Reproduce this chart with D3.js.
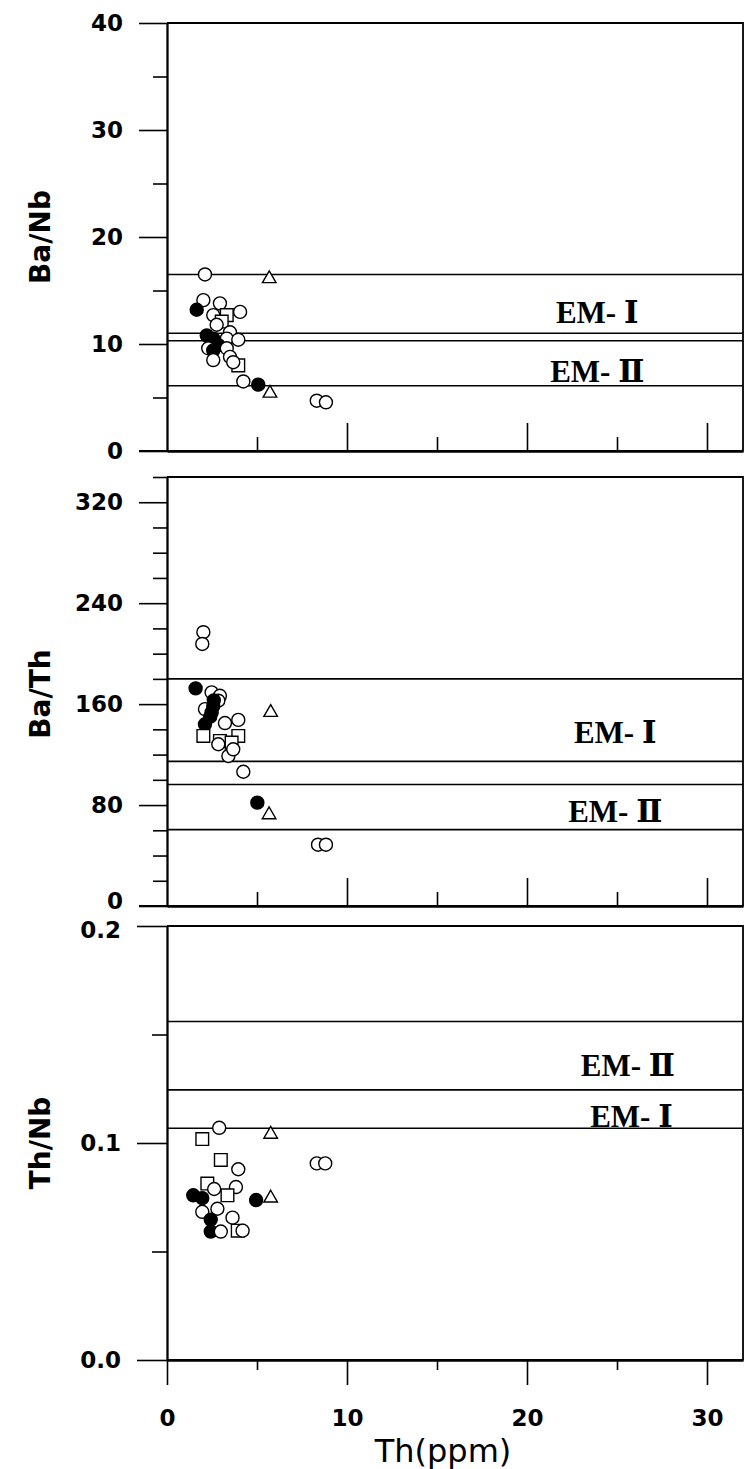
<!DOCTYPE html>
<html>
<head>
<meta charset="utf-8">
<script src="https://cdn.jsdelivr.net/npm/d3@7"></script>
<style>
  body { margin: 0; background: #fff; }
  .tick text { font-family: "DejaVu Sans", sans-serif; font-weight: bold; font-size: 23px; }
  .title { font-family: "DejaVu Sans", sans-serif; font-size: 28px; font-weight: bold; }
  .xtitle { font-family: "DejaVu Sans", sans-serif; font-size: 32px; }
  .em { font-family: "Liberation Serif", "DejaVu Serif", serif; font-weight: bold; font-size: 31px; }
</style>
</head>
<body>
<div id="chart"></div>
<script>
var width = 751,
  height = 1469;

// x values are Th (ppm); symbol: o open circle, f filled circle, s square, t triangle
var th1   = [2.11, 5.68, 2.02, 2.94, 1.65, 4.06, 2.57, 3.32, 3.04, 2.76, 2.21, 2.57, 3.5, 3.32, 3.96, 2.85, 2.29, 2.57, 3.32, 2.57, 3.5, 3.96, 3.68, 4.24, 5.07, 5.72, 8.32, 8.83];
var baNb  = [16.5, 16.1, 14.1, 13.8, 13.2, 13.0, 12.7, 12.7, 12.1, 11.8, 10.8, 10.5, 11.1, 10.5, 10.4, 9.9, 9.6, 9.4, 9.6, 8.5, 8.8, 8.0, 8.3, 6.5, 6.2, 5.4, 4.7, 4.55];
var sym1  = ["o","t","o","o","f","o","o","s","s","o","f","f","o","o","o","f","o","f","o","o","o","s","o","o","f","t","o","o"];

var th2   = [2.02, 1.96, 1.59, 2.48, 2.94, 2.85, 2.11, 2.6, 2.57, 2.48, 2.4, 5.76, 2.11, 2.02, 3.22, 3.96, 3.96, 2.94, 2.85, 3.59, 3.41, 3.68, 4.24, 5.02, 5.67, 8.39, 8.83];
var baTh  = [217, 207.7, 172.5, 169.3, 166.6, 162.7, 156, 163, 158.6, 153.4, 150, 153.4, 144, 134.8, 145, 147.5, 134.8, 130.8, 128.2, 129.5, 118.9, 124.2, 106.4, 81.9, 72.3, 48.6, 48.6];
var sym2  = ["o","o","f","o","o","o","o","f","f","f","f","t","f","s","o","o","s","s","o","s","o","o","o","f","t","o","o"];

var th3   = [2.9, 1.96, 5.76, 2.99, 3.96, 8.32, 8.79, 2.24, 2.62, 3.83, 1.46, 1.96, 3.36, 4.95, 5.76, 1.96, 2.8, 2.43, 3.64, 2.43, 2.99, 3.93, 4.2];
var thNb  = [0.107, 0.1018, 0.104, 0.0922, 0.0879, 0.0906, 0.0906, 0.0813, 0.0788, 0.0797, 0.0759, 0.0746, 0.0759, 0.0737, 0.0746, 0.0683, 0.0697, 0.0647, 0.0656, 0.0592, 0.0592, 0.0596, 0.0596];
var sym3  = ["o","s","t","s","o","o","o","s","o","o","f","f","s","f","t","o","o","f","o","f","o","s","o"];

// horizontal boundary lines of the EM fields
var lines1 = [16.5, 11.0, 10.3, 6.1];
var lines2 = [180, 114.6, 96.3, 60.5];
var lines3 = [0.156, 0.1245, 0.1068];

// field labels: [text, Th, value at baseline]
var labels1 = [["EM- \u2160", 23.9, 11.96], ["EM- \u2161", 23.9, 6.45]];
var labels2 = [["EM- \u2160", 24.9, 129], ["EM- \u2161", 24.9, 66.6]];
var labels3 = [["EM- \u2161", 25.6, 0.131], ["EM- \u2160", 25.8, 0.1075]];

var xTicks = [0, 10, 20, 30],
  xMinor = [5, 15, 25];

var svg = d3.select("#chart").append("svg")
  .attr("width", width)
  .attr("height", height);

var x = d3.scaleLinear().domain([0, 32]).range([167, 743]);

var panels = [
  { y: d3.scaleLinear().domain([0, 40]).range([451, 23]), th: th1, v: baNb, s: sym1,
    lines: lines1, labels: labels1, title: "Ba/Nb", ty: 237,
    major: [0, 10, 20, 30, 40], minor: [5, 15, 25, 35], fmt: d3.format("d"), ys: 28, bottom: false },
  { y: d3.scaleLinear().domain([0, 340]).range([906, 477]), th: th2, v: baTh, s: sym2,
    lines: lines2, labels: labels2, title: "Ba/Th", ty: 694,
    major: [0, 80, 160, 240, 320], minor: d3.range(20, 341, 20).filter(function(d) { return d % 80; }),
    fmt: d3.format("d"), ys: 28, bottom: false },
  { y: d3.scaleLinear().domain([0, 0.2]).range([1360, 926]), th: th3, v: thNb, s: sym3,
    lines: lines3, labels: labels3, title: "Th/Nb", ty: 1143,
    major: [0, 0.1, 0.2], minor: [0.05, 0.15], fmt: d3.format(".1f"), ys: 30, bottom: true }
];

panels.forEach(function(p, k) {
  var g = svg.append("g");
  var y0 = p.y.range()[0], y1 = p.y.range()[1];

  // frame (top + right)
  g.append("path")
    .attr("d", "M" + x(0) + "," + y1 + "H" + x(32) + "V" + y0)
    .attr("fill", "none").attr("stroke", "#000").attr("stroke-width", 1.8);

  // y axis
  var ya = g.append("g").attr("transform", "translate(" + x(0) + ",0)")
    .call(d3.axisLeft(p.y).tickValues(p.major).tickFormat(p.fmt).tickSize(p.ys).tickPadding(16).tickSizeOuter(0));
  g.append("g").attr("transform", "translate(" + x(0) + ",0)")
    .call(d3.axisLeft(p.y).tickValues(p.minor).tickFormat("").tickSize(p.ys / 2).tickSizeOuter(0));

  // the panel-2 zero and the panel-3 top label sit very close; nudge them apart a little
  if (k === 1) ya.selectAll(".tick text").filter(function(d) { return d === 0; }).attr("dy", "0.1em");
  if (k === 2) ya.selectAll(".tick text").filter(function(d) { return d === 0.2; }).attr("dy", "0.5em");

  // x axis
  if (p.bottom) {
    g.append("g").attr("transform", "translate(0," + y0 + ")")
      .call(d3.axisBottom(x).tickValues(xTicks).tickFormat(d3.format("d")).tickSize(25).tickPadding(25).tickSizeOuter(0));
    g.append("g").attr("transform", "translate(0," + y0 + ")")
      .call(d3.axisBottom(x).tickValues(xMinor).tickFormat("").tickSize(10).tickSizeOuter(0));
  } else {
    g.append("g").attr("transform", "translate(0," + y0 + ")")
      .call(d3.axisBottom(x).tickValues(xTicks.slice(1)).tickFormat("").tickSize(-28).tickSizeOuter(0));
    g.append("g").attr("transform", "translate(0," + y0 + ")")
      .call(d3.axisBottom(x).tickValues(xMinor).tickFormat("").tickSize(-14).tickSizeOuter(0));
  }
  // bottom edge reaches left as the zero tick
  g.append("line")
    .attr("x1", x(0) - (p.bottom ? 0 : 28)).attr("x2", x(32))
    .attr("y1", y0).attr("y2", y0)
    .attr("stroke", "#000").attr("stroke-width", 1.8);

  g.selectAll(".domain").attr("stroke-width", 1.8);
  g.selectAll(".tick line").attr("stroke-width", 1.6);

  // field boundaries
  g.selectAll(".bound")
    .data(p.lines)
    .enter().append("line")
    .attr("x1", x(0)).attr("x2", x(32))
    .attr("y1", function(d) { return p.y(d); })
    .attr("y2", function(d) { return p.y(d); })
    .attr("stroke", "#000").attr("stroke-width", 1.6);

  g.selectAll(".em")
    .data(p.labels)
    .enter().append("text")
    .attr("class", "em")
    .attr("text-anchor", "middle")
    .attr("x", function(d) { return x(d[1]); })
    .attr("y", function(d) { return p.y(d[2]); })
    .text(function(d) { return d[0]; });

  // points
  var pts = p.th.map(function(d, i) { return { x: d, v: p.v[i], s: p.s[i] }; });
  pts.forEach(function(d) {
    var cx = x(d.x), cy = p.y(d.v);
    if (d.s === "o" || d.s === "f") {
      g.append("circle").attr("cx", cx).attr("cy", cy).attr("r", 6.5)
        .attr("fill", d.s === "f" ? "#000" : "#fff")
        .attr("stroke", "#000").attr("stroke-width", 1.4);
    } else {
      var shape = d.s === "s" ? d3.symbolSquare : d3.symbolTriangle;
      g.append("path")
        .attr("transform", "translate(" + cx + "," + cy + ")")
        .attr("d", d3.symbol().type(shape).size(d.s === "s" ? 160 : 80)())
        .attr("fill", "#fff").attr("stroke", "#000").attr("stroke-width", 1.4);
    }
  });

  svg.append("text")
    .attr("class", "title")
    .attr("text-anchor", "middle")
    .attr("transform", "translate(50," + p.ty + ") rotate(-90)")
    .text(p.title);
});

svg.append("text")
  .attr("class", "xtitle")
  .attr("text-anchor", "middle")
  .attr("x", 443)
  .attr("y", 1462)
  .text("Th(ppm)");
</script>
</body>
</html>
